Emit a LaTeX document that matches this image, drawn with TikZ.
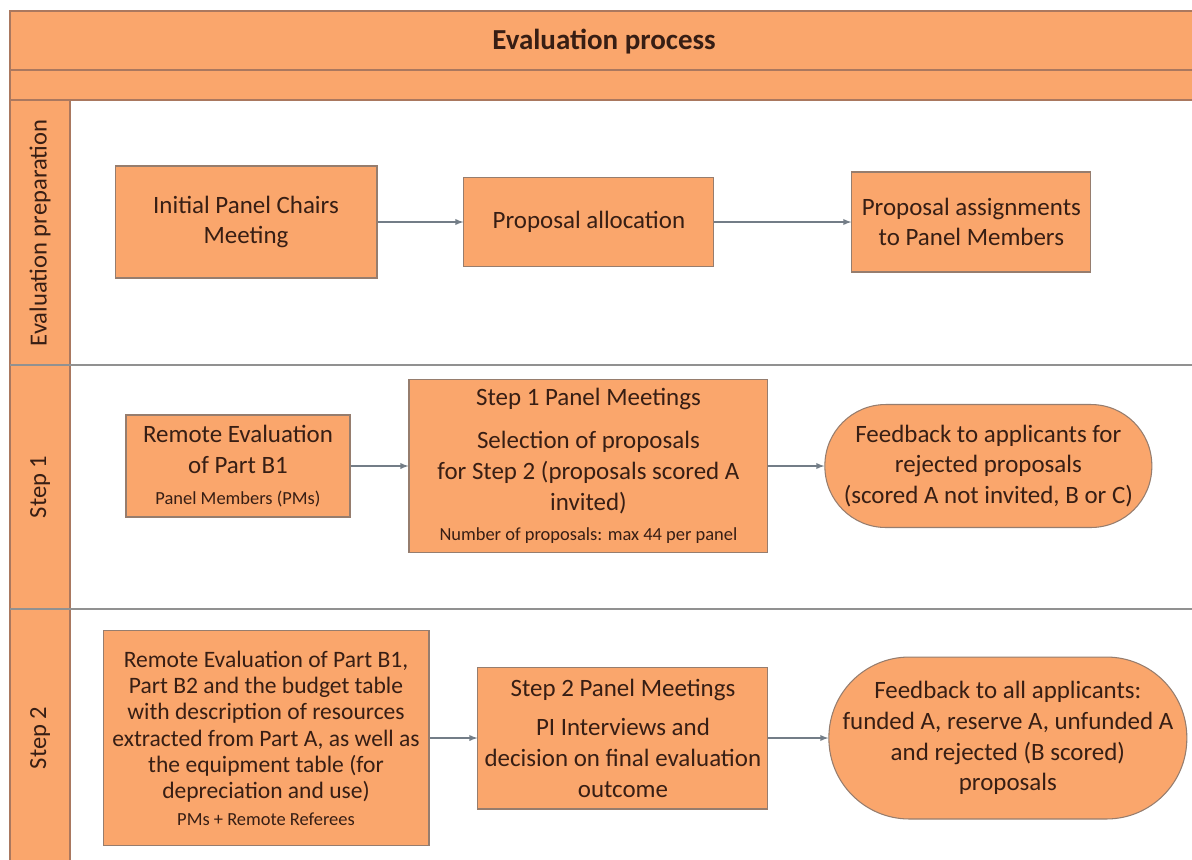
\documentclass[tikz,border=0pt]{standalone}
\usepackage{fontspec}
\setmainfont{Carlito}
\usetikzlibrary{arrows,shapes,positioning}

\definecolor{evalorange}{RGB}{250,166,108}
\definecolor{bandline}{RGB}{170,120,95}
\definecolor{boxline}{RGB}{150,125,110}
\definecolor{laneline}{RGB}{145,145,145}
\definecolor{arrowgray}{RGB}{115,125,135}
\definecolor{textbrown}{RGB}{55,30,20}

\newcommand{\smallnote}[1]{{\fontsize{10.5}{12}\selectfont #1}}

\begin{document}
\begin{tikzpicture}[x = 0.02cm, y = -0.02cm, >=latex,
  task/.style = {rectangle, draw=boxline, line width=0.6pt, fill=evalorange, text=textbrown,
                 align=center, inner sep=0pt, font=\fontsize{14.2}{17.5}\selectfont},
  feedback/.style = {task},
  lane/.style = {rotate=90, text=textbrown, font=\fontsize{14}{17}\selectfont},
  flow/.style = {->, draw=arrowgray, line width=0.6pt}]

  \useasboundingbox (0,0) rectangle (1192,859);
  \clip (0,0) rectangle (1192,859);
  \fill[white] (0,0) rectangle (1192,859);

  % pool header and lane column
  \fill[evalorange] (10,11) rectangle (1210,100);
  \fill[evalorange] (10,100) rectangle (70,880);
  \draw[bandline, line width=1.2pt] (10,880) -- (10,11) -- (1210,11);
  \draw[bandline, line width=1.2pt] (10,70) -- (1210,70);
  \draw[bandline, line width=1.2pt] (10,100) -- (1210,100);
  \draw[bandline, line width=1.2pt] (70,100) -- (70,880);
  \draw[laneline, line width=1.2pt] (10,365) -- (1210,365);
  \draw[laneline, line width=1.2pt] (10,609) -- (1210,609);

  \node[text=textbrown, font=\fontsize{16.5}{20}\selectfont\bfseries] (title) at (604,42) {Evaluation process};

  \node[lane] (prep) at (40,233) {Evaluation preparation};
  \node[lane] (stepone) at (40,487) {Step 1};
  \node[lane] (steptwo) at (40,738) {Step 2};

  % evaluation preparation
  \node[task, minimum width=5.24cm, minimum height=2.24cm] (chairs) at (246,222)
  {Initial Panel Chairs\\Meeting};
  \node[task, minimum width=5cm, minimum height=1.78cm, right of = chairs, node distance = 6.86cm]
  (allocation) {Proposal allocation};
  \node[task, minimum width=4.78cm, minimum height=2cm, right of = allocation, node distance = 7.65cm]
  (assignment) {Proposal assignments\\to Panel Members};

  \draw[flow] (chairs) -- (allocation);
  \draw[flow] (allocation) -- (assignment);

  % step 1
  \node[task, minimum width=4.48cm, minimum height=2.04cm] (remoteone) at (238,466)
  {Remote Evaluation\\of Part B1\\\smallnote{Panel Members (PMs)}};
  \node[task, minimum width=7.18cm, minimum height=3.46cm, right of = remoteone, node distance = 7.01cm]
  (panelone) {Step 1 Panel Meetings\\[7pt]Selection of proposals\\for Step 2 (proposals scored A\\invited)\\\smallnote{Number of proposals: max 44 per panel}};
  \node[feedback, rounded corners=1.22cm, minimum width=6.54cm, minimum height=2.46cm,
        right of = panelone, node distance = 8cm]
  (feedbackone) {Feedback to applicants for\\rejected proposals\\(scored A not invited, B or C)};

  \draw[flow] (remoteone) -- (panelone);
  \draw[flow] (panelone) -- (feedbackone);

  % step 2
  \node[task, minimum width=6.52cm, minimum height=4.3cm, font=\fontsize{13.4}{15}\selectfont] (remotetwo) at (266,738)
  {Remote Evaluation of Part B1,\\Part B2 and the budget table\\with description of resources\\extracted from Part A, as well as\\the equipment table (for\\depreciation and use)\\\smallnote{PMs + Remote Referees}};
  \node[task, minimum width=5.8cm, minimum height=2.84cm, right of = remotetwo, node distance = 7.14cm]
  (paneltwo) {Step 2 Panel Meetings\\[5pt]PI Interviews and\\decision on final evaluation\\outcome};
  \node[feedback, rounded corners=1.61cm, minimum width=7.16cm, minimum height=3.24cm,
        right of = paneltwo, node distance = 7.7cm]
  (feedbacktwo) {Feedback to all applicants:\\funded A, reserve A, unfunded A\\and rejected (B scored)\\proposals};

  \draw[flow] (remotetwo) -- (paneltwo);
  \draw[flow] (paneltwo) -- (feedbacktwo);

\end{tikzpicture}
\end{document}
